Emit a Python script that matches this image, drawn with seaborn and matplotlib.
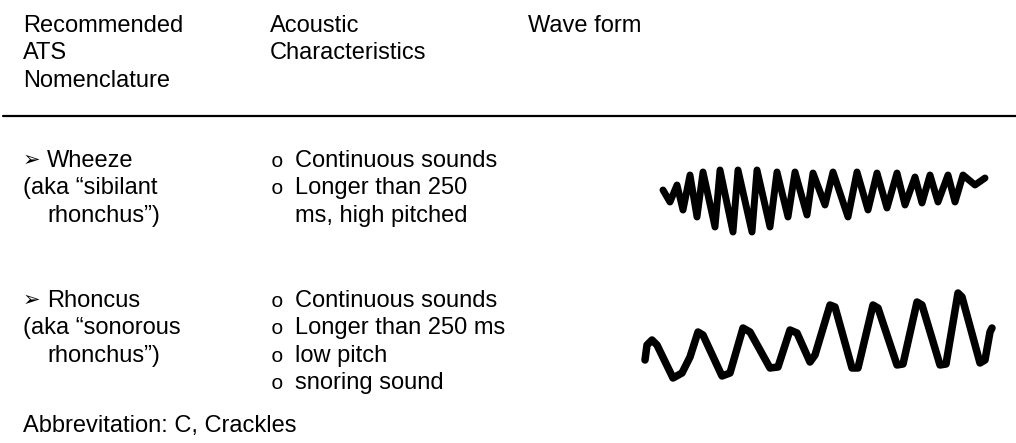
import matplotlib
matplotlib.use("Agg")
import numpy as np
import pandas as pd
import seaborn as sns
import matplotlib.pyplot as plt

# --- data ---
header_col1 = ["Recommended", "ATS", "Nomenclature"]
header_col2 = ["Acoustic", "Characteristics"]
header_col3 = ["Wave form"]

sounds = ["Wheeze", "Rhoncus"]
aka_lines = [["(aka \u201csibilant", "rhonchus\u201d)"],
             ["(aka \u201csonorous", "rhonchus\u201d)"]]
characteristics = [["Continuous sounds", "Longer than 250", "ms, high pitched"],
                   ["Continuous sounds", "Longer than 250 ms", "low pitch", "snoring sound"]]
bulleted = [[True, True, False], [True, True, True, True]]
footnote = "Abbrevitation: C, Crackles"

# wave traces (pixel units)
wheeze_x = [663, 670, 677, 683, 690, 697, 703, 715, 720, 733, 738, 752, 757, 770,
            777, 788, 795, 807, 813, 825, 833, 848, 857, 868, 877, 887, 897, 905,
            915, 922, 930, 938, 948, 955, 963, 975, 985]
wheeze_y = [190, 202, 185, 210, 175, 217, 172, 227, 170, 232, 170, 232, 170, 227,
            172, 217, 172, 215, 173, 205, 172, 217, 172, 210, 173, 208, 173, 205,
            177, 203, 175, 202, 175, 202, 175, 185, 178]
rhonchus_x = [645, 647, 652, 657, 673, 682, 690, 698, 703, 722, 730, 743, 750, 770,
              778, 790, 797, 810, 815, 830, 835, 852, 858, 873, 878, 897, 903, 917,
              922, 940, 946, 958, 962, 980, 985, 990, 992]
rhonchus_y = [360, 345, 340, 345, 378, 373, 357, 332, 335, 376, 373, 328, 332, 368,
              367, 330, 333, 362, 355, 305, 307, 368, 368, 305, 308, 365, 364, 302,
              305, 365, 364, 293, 297, 363, 360, 332, 328]

# --- layout ---
W, H = 1016, 443
FS = 17
TEXT_FONT = ["Liberation Sans", "DejaVu Sans"]
COL1_X, COL1_INDENT = 23, 47
COL2_X, COL2_TEXT_X = 271, 295
COL3_X = 528
LINE_STEP = 27.3
ROW_BASE = [167, 307]

sns.set_theme(style="white")
plt.rcParams["font.family"] = TEXT_FONT

fig = plt.figure(figsize=(W / 100, H / 100), dpi=100)
ax = fig.add_axes([0, 0, 1, 1])


def put(x, y, s, **kw):
    kw.setdefault("fontsize", FS)
    kw.setdefault("family", TEXT_FONT)
    ax.text(x, y, s, ha="left", va="baseline", color="black", **kw)


# wave forms
waves = pd.concat([
    pd.DataFrame({"x": wheeze_x, "y": wheeze_y, "sound": "Wheeze"}),
    pd.DataFrame({"x": rhonchus_x, "y": rhonchus_y, "sound": "Rhoncus"}),
])
sns.lineplot(data=waves[waves.sound == "Wheeze"], x="x", y="y", sort=False,
             estimator=None, color="black", lw=5.0, ax=ax,
             solid_joinstyle="round", solid_capstyle="round")
sns.lineplot(data=waves[waves.sound == "Rhoncus"], x="x", y="y", sort=False,
             estimator=None, color="black", lw=5.4, ax=ax,
             solid_joinstyle="round", solid_capstyle="round")
ax.set_xlim(0, W)
ax.set_ylim(H, 0)
ax.axis("off")

# header
for i, s in enumerate(header_col1):
    put(COL1_X, 32 + i * LINE_STEP, s)
for i, s in enumerate(header_col2):
    put(COL2_X - 1, 32 + i * LINE_STEP, s)
put(COL3_X, 32, header_col3[0])

ax.axhline(116, xmin=3 / W, xmax=1, color="black", lw=1.6)

# rows
for r, name in enumerate(sounds):
    y0 = ROW_BASE[r]
    put(COL1_X, y0 - 1, "\u27a2", fontsize=15, family=["DejaVu Sans"])
    put(COL1_INDENT, y0, name)
    put(COL1_X, y0 + LINE_STEP, aka_lines[r][0])
    put(COL1_INDENT, y0 + 2 * LINE_STEP, aka_lines[r][1])
    for k, s in enumerate(characteristics[r]):
        y = y0 + k * LINE_STEP
        if bulleted[r][k]:
            put(COL2_X, y, "o", fontsize=15, family=["Liberation Mono"])
        put(COL2_TEXT_X, y, s)

put(COL1_X, 432, footnote)

fig.savefig("out.png", dpi=100)
